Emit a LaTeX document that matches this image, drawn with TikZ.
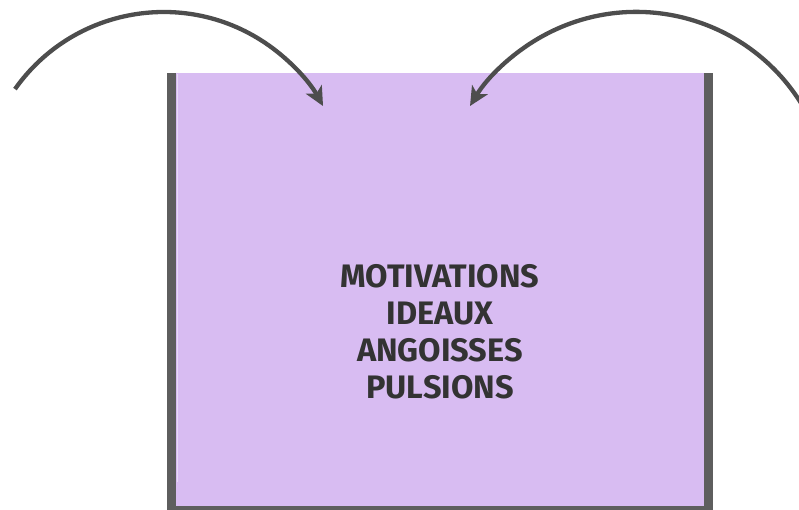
\documentclass[tikz,border=0pt]{standalone}
\usepackage{fontspec}
\setmainfont{Fira Sans}
\usetikzlibrary{arrows.meta}
\definecolor{lav}{HTML}{D8BCF2}
\definecolor{lavlight}{HTML}{E8DAF8}
\definecolor{wall}{HTML}{5E5E5E}
\definecolor{arr}{HTML}{4D4D4D}
\definecolor{txt}{HTML}{333333}
\tikzset{
  wallline/.style={fill=wall, draw=none},
  curvearrow/.style={draw=arr, line width=4.3pt, -{Stealth[length=19pt,width=18pt,inset=5pt]}},
  label/.style={text=txt, font=\bfseries\fontsize{32.5}{37}\selectfont, align=center}
}
\begin{document}
\begin{tikzpicture}[x=1pt,y=-1pt]
\useasboundingbox (0,0) rectangle (799,510);
\clip (0,0) rectangle (799,510);
% container
\fill[lav] (176,73) rectangle (704,506);
\fill[wallline] (167,73) rectangle (176,510);
\fill[wallline] (704,73) rectangle (713,510);
\fill[wallline] (167,506) rectangle (713,510);
\draw[lavlight, line width=1pt] (177.5,74) -- (177.5,482);
% text
\node[label] (t) at (440,332) {MOTIVATIONS\\IDEAUX\\ANGOISSES\\PULSIONS};
% arrows
\coordinate (c1) at (163.7,194);
\coordinate (c2) at (636.4,206);
\draw[curvearrow] (c1) ++(-144.8:182) arc[start angle=-144.8, end angle=-28.9, radius=182];
\draw[curvearrow] (c2) ++(-30:194.1) arc[start angle=-30, end angle=-149, radius=194.1];
\end{tikzpicture}
\end{document}
